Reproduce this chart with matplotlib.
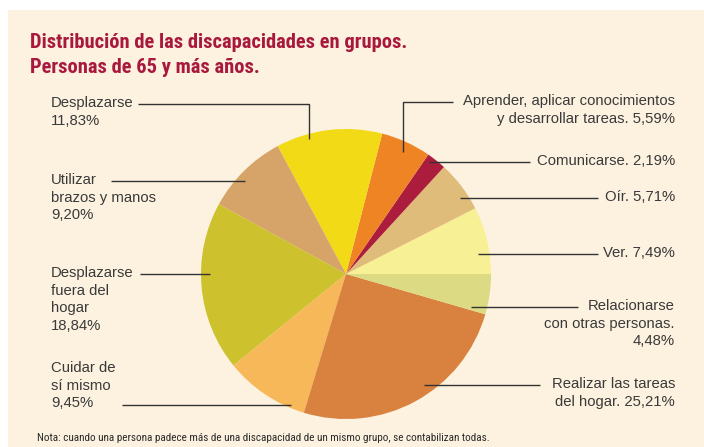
import matplotlib
matplotlib.use("Agg")
import matplotlib.pyplot as plt
from matplotlib import font_manager
from matplotlib.patches import Rectangle

# Data (counterclockwise from 3 o'clock):

names = ["Ver. {}", "Oír. {}", "Comunicarse. {}",
         "Aprender, aplicar conocimientos\ny desarrollar tareas. {}",
         "Desplazarse\n{}", "Utilizar\nbrazos y manos\n{}",
         "Desplazarse\nfuera del\nhogar\n{}", "Cuidar de\nsí mismo\n{}",
         "Realizar las tareas\ndel hogar. {}",
         "Relacionarse\ncon otras personas.\n{}"]
values = [7.49, 5.71, 2.19, 5.59, 11.83, 9.20, 18.84, 9.45, 25.21, 4.48]
colors = ["#F7F095", "#E0BC7A", "#AC1C3C", "#EE8424", "#F2DA17",
          "#D6A468", "#CDC22E", "#F6B858", "#D98240", "#DDDA84"]

title = "Distribución de las discapacidades en grupos.\nPersonas de 65 y más años."
note = ("Nota: cuando una persona padece más de una discapacidad de un mismo "
        "grupo, se contabilizan todas.")

# =======Layout (pixels)=======:

# text anchor (x, y of first line centre, ha) and leader polyline per slice
text_pos = [(675, 254, "right"), (675, 198, "right"), (675, 162, "right"),
            (675, 102, "right"), (51, 104, "left"), (51, 181, "left"),
            (51, 274, "left"), (51, 369, "left"), (675, 385, "right"),
            (675, 307, "right")]
leaders = [[(598, 254), (478, 254)],
           [(598, 198), (460, 198)],
           [(530, 162), (429, 162)],
           [(453, 102), (403, 102), (403, 152)],
           [(138, 104), (309, 104), (309, 139)],
           [(111, 181), (245, 181)],
           [(140, 274), (210, 274)],
           [(122, 405), (291, 405)],
           [(540, 385), (424, 385)],
           [(578, 307), (471, 307)]]


def pick(fams):
    for f in fams:
        try:
            font_manager.findfont(f, fallback_to_default=False)
            return f
        except Exception:
            pass
    return "DejaVu Sans"


narrow = pick(["Liberation Sans Narrow", "Roboto Condensed", "DejaVu Sans Condensed", "Liberation Sans"])
body = pick(["Liberation Sans", "DejaVu Sans"])

W, H = 704, 447
fig = plt.figure(figsize=(W / 100, H / 100), dpi=100)
fig.patch.set_facecolor("white")
ax = fig.add_axes([0, 0, 1, 1])

ax.add_patch(Rectangle((8, 10), W, H, facecolor="#FCF2DF", edgecolor="none", zorder=0))

ax.pie(values, colors=colors, startangle=0, counterclock=False,
       center=(346, 274), radius=145, frame=True,
       wedgeprops=dict(linewidth=0))
ax.set_xlim(0, W)
ax.set_ylim(H, 0)
ax.set_aspect("equal")
ax.axis("off")

for i, v in enumerate(values):
    label = names[i].format(f"{v:.2f}".replace(".", ",") + "%")
    x, y, ha = text_pos[i]
    ax.text(x, y - 8, label, ha=ha, va="top", multialignment=ha,
            fontsize=10.7, family=body, color="#3A3A3A", linespacing=1.33)
    xs = [p[0] for p in leaders[i]]
    ys = [p[1] for p in leaders[i]]
    ax.plot(xs, ys, color="#333333", lw=1.0, solid_capstyle="butt")

ax.text(30, 73, title, ha="left", va="baseline", fontsize=14.8, family=narrow,
        fontweight="bold", color="#A8193D", linespacing=1.4)
ax.text(37, 441, note, ha="left", va="baseline", fontsize=8.0, family=narrow,
        color="#2A2A2A")

fig.savefig("out.png", dpi=100, facecolor=fig.get_facecolor())
